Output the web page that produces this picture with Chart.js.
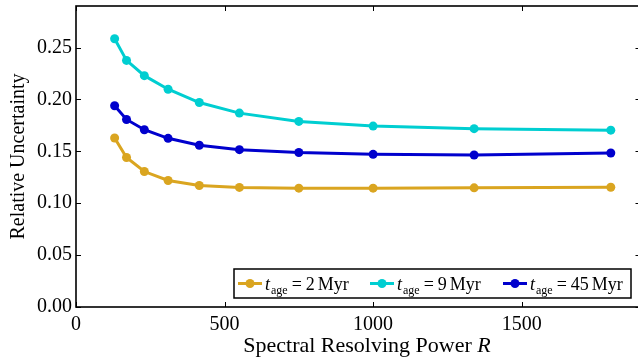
<!DOCTYPE html>
<html>
<head>
<meta charset="utf-8">
<script src="https://cdn.jsdelivr.net/npm/chart.js@4.4.0/dist/chart.umd.min.js"></script>
<style>
  html, body { margin: 0; padding: 0; background: #fff; overflow: hidden; }
  #wrap { width: 645px; height: 361px; }
</style>
</head>
<body>
<div id="wrap"><canvas id="plot" width="645" height="361"></canvas></div>
<script>
// resolving power R
var R = [130, 170, 230, 310, 415, 550, 750, 1000, 1340, 1800];
// relative uncertainty per stellar age
var age2 = [0.1628, 0.1440, 0.1305, 0.1219, 0.1171, 0.1152, 0.1145, 0.1145, 0.1148, 0.1154];
var age9 = [0.2584, 0.2376, 0.2229, 0.2098, 0.1970, 0.1868, 0.1788, 0.1743, 0.1718, 0.1704];
var age45 = [0.1939, 0.1807, 0.1708, 0.1625, 0.1558, 0.1516, 0.1488, 0.1471, 0.1464, 0.1484];
var ages = ["2", "9", "45"];
var colors = ["#DAA520", "#00CED1", "#0000CD"];
var xTicks = [0, 500, 1000, 1500];
var yTicks = [0, 0.05, 0.10, 0.15, 0.20, 0.25];

var serif = "'Liberation Serif', 'Times New Roman', serif";

function pts(ys) {
  return R.map(function (r, i) { return {x: r, y: ys[i]}; });
}

function ds(ys, i) {
  return {
    label: "t_age = " + ages[i] + " Myr",
    data: pts(ys),
    borderColor: colors[i],
    backgroundColor: colors[i],
    borderWidth: 3,
    pointRadius: 4.5,
    pointBorderWidth: 0,
    pointBackgroundColor: colors[i],
    tension: 0
  };
}

// box, inward ticks on all four sides, x title with italic R, legend
var frame = {
  id: "frame",
  afterDraw: function (chart) {
    var c = chart.ctx, a = chart.chartArea;
    var xs = chart.scales.x, ys = chart.scales.y;
    c.save();
    c.strokeStyle = "#000";
    c.lineWidth = 1;
    c.beginPath();
    xs.ticks.forEach(function (t) {
      var px = Math.round(xs.getPixelForValue(t.value)) + 0.5;
      c.moveTo(px, a.bottom); c.lineTo(px, a.bottom - 5);
      c.moveTo(px, a.top); c.lineTo(px, a.top + 5);
    });
    ys.ticks.forEach(function (t) {
      var py = Math.round(ys.getPixelForValue(t.value)) + 0.5;
      c.moveTo(a.left, py); c.lineTo(a.left + 5, py);
      c.moveTo(a.right, py); c.lineTo(a.right - 5, py);
    });
    c.stroke();
    c.lineWidth = 1.6;
    c.strokeRect(a.left, a.top, a.right - a.left, a.bottom - a.top);

    // x axis title
    c.fillStyle = "#000";
    c.textBaseline = "alphabetic";
    c.textAlign = "left";
    c.font = "22px " + serif;
    var t1 = "Spectral Resolving Power ";
    var w1 = c.measureText(t1).width;
    c.font = "italic 22px " + serif;
    var w2 = c.measureText("R").width;
    var sx = 367 - (w1 + w2) / 2;
    c.font = "22px " + serif;
    c.fillText(t1, sx, 352);
    c.font = "italic 22px " + serif;
    c.fillText("R", sx + w1, 352);

    // legend
    var bx = 234, by = 269, bw = 397, bh = 29;
    c.fillStyle = "#fff";
    c.fillRect(bx, by, bw, bh);
    c.lineWidth = 1.5;
    c.strokeRect(bx, by, bw, bh);
    var starts = [238, 370, 503];
    var cy = by + bh / 2;
    for (var i = 0; i < 3; i++) {
      var x0 = starts[i];
      c.strokeStyle = colors[i];
      c.lineWidth = 3;
      c.beginPath(); c.moveTo(x0, cy); c.lineTo(x0 + 24, cy); c.stroke();
      c.fillStyle = colors[i];
      c.beginPath(); c.arc(x0 + 12, cy, 4.5, 0, Math.PI * 2); c.fill();
      var tx = x0 + 27, base = cy + 6;
      c.fillStyle = "#000";
      c.font = "italic 18px " + serif;
      c.fillText("t", tx, base);
      tx += c.measureText("t").width + 1;
      c.font = "12px " + serif;
      c.fillText("age", tx, base + 4);
      tx += c.measureText("age").width + 4;
      c.font = "18px " + serif;
      c.fillText("=", tx, base);
      tx += c.measureText("=").width + 4;
      c.fillText(ages[i], tx, base);
      tx += c.measureText(ages[i]).width + 3;
      c.fillText("Myr", tx, base);
    }
    c.restore();
  }
};

new Chart(document.getElementById("plot"), {
  type: "line",
  data: { datasets: [ds(age2, 0), ds(age9, 1), ds(age45, 2)] },
  options: {
    responsive: false,
    animation: false,
    layout: { padding: { left: 0, top: 6, right: 4, bottom: 0 } },
    plugins: { legend: { display: false }, tooltip: { enabled: false } },
    scales: {
      x: {
        type: "linear",
        min: 0, max: 1900,
        grid: { display: false, drawTicks: false },
        border: { display: false },
        afterBuildTicks: function (s) { s.ticks = xTicks.map(function (v) { return {value: v}; }); },
        ticks: { padding: 6, color: "#000", autoSkip: false, maxRotation: 0,
                 font: { family: serif, size: 20 },
                 callback: function (v) { return String(v); } },
        afterFit: function (s) { s.height = 54; }
      },
      y: {
        min: 0, max: 0.29,
        grid: { display: false, drawTicks: false },
        border: { display: false },
        afterBuildTicks: function (s) { s.ticks = yTicks.map(function (v) { return {value: v}; }); },
        ticks: { padding: 4, color: "#000", autoSkip: false,
                 font: { family: serif, size: 20 },
                 callback: function (v) { return v.toFixed(2); } },
        title: { display: true, text: "Relative Uncertainty", color: "#000",
                 padding: { top: 7, bottom: 0 }, font: { family: serif, size: 20 } },
        afterFit: function (s) { s.width = 76; s.paddingTop = 0; s.paddingBottom = 0; }
      }
    }
  },
  plugins: [frame]
});
</script>
</body>
</html>
